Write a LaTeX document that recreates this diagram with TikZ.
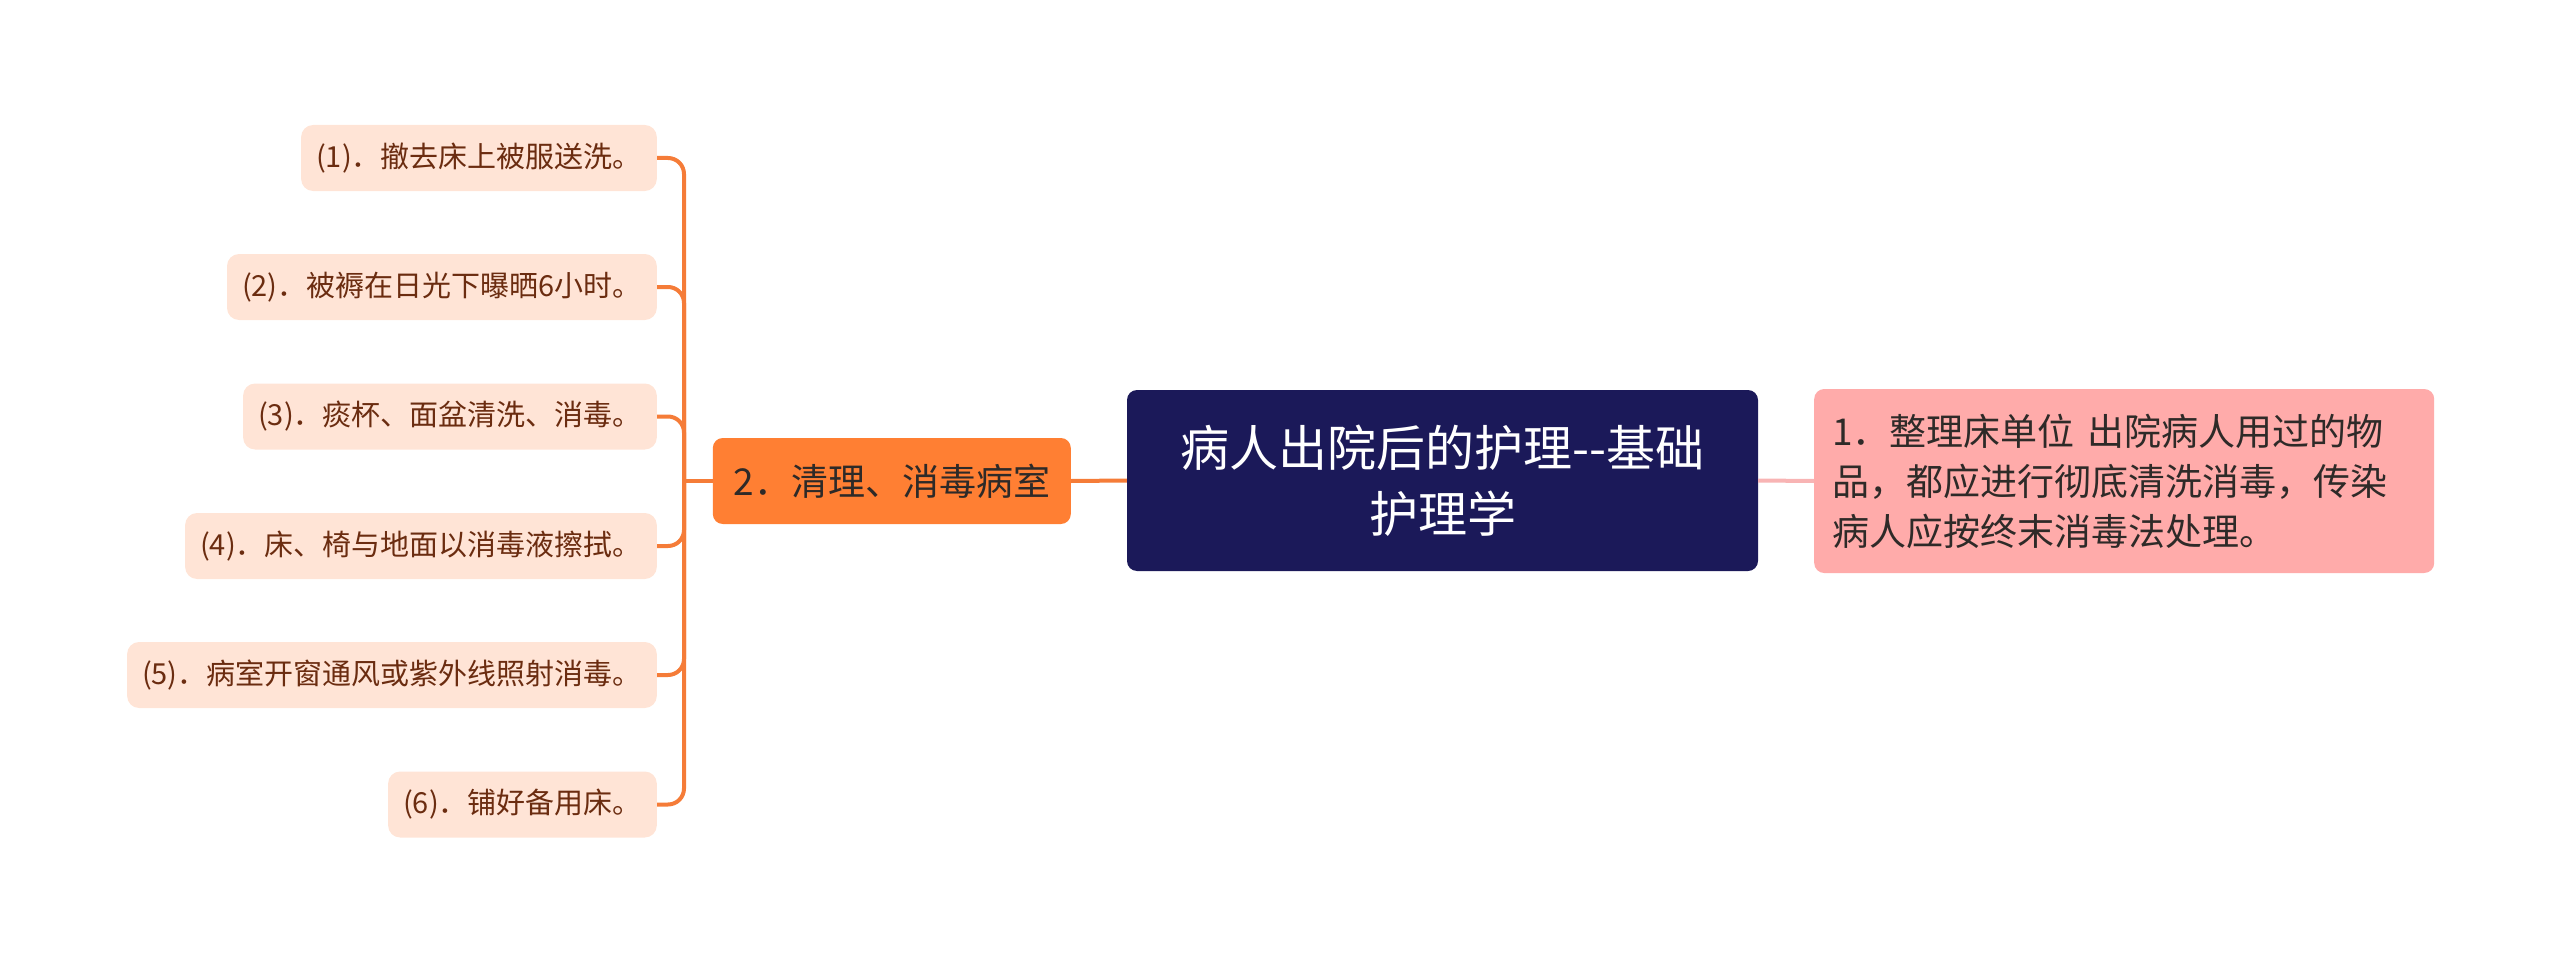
\documentclass[tikz,border=0pt]{standalone}
\usepackage{fontspec}
\setmainfont{Noto Sans CJK SC}
\definecolor{rootfill}{HTML}{1B1959}
\definecolor{branchfill}{HTML}{FF7F33}
\definecolor{leaffill}{HTML}{FFE4D6}
\definecolor{leaftext}{HTML}{6B2C10}
\definecolor{pinkfill}{HTML}{FFABAA}
\definecolor{pinkline}{HTML}{F8B4B4}
\definecolor{orangeline}{HTML}{F57C38}
\definecolor{darktext}{HTML}{2E2A28}
\begin{document}
\begin{tikzpicture}[x=1pt,y=-1pt,
  leafbox/.style={fill=leaffill, rounded corners=12pt, minimum height=66pt, inner xsep=15pt,
    text=leaftext, font=\fontsize{29}{35}\selectfont, anchor=east},
  rootbox/.style={fill=rootfill, rounded corners=10pt, minimum width=631pt, minimum height=181pt,
    text=white, align=center, font=\fontsize{49}{66}\selectfont},
  branchbox/.style={fill=branchfill, rounded corners=10pt, minimum width=358pt, minimum height=86pt,
    text=darktext, font=\fontsize{37}{44}\selectfont, anchor=east},
  rightbox/.style={fill=pinkfill, rounded corners=10pt, minimum height=184pt, text width=584pt,
    inner xsep=18pt, align=left, text=darktext, font=\fontsize{37}{50}\selectfont, anchor=west},
  oline/.style={draw=orangeline, line width=4pt},
  pline/.style={draw=pinkline, line width=4pt}
]
\useasboundingbox (0,0) rectangle (2560,963);
\node[rootbox] (root) at (1442.5,480.5) {病人出院后的护理{-}{-}基础\\护理学};
\node[branchbox] (b) at (1071,481) {2．清理、消毒病室};
\node[rightbox] (r) at (1814,481) {1．整理床单位 出院病人用过的物\\品，都应进行彻底清洗消毒，传染\\病人应按终末消毒法处理。};
\node[leafbox] (l1) at (657,158) {(1)．撤去床上被服送洗。};
\node[leafbox] (l2) at (657,287) {(2)．被褥在日光下曝晒6小时。};
\node[leafbox] (l3) at (657,416.5) {(3)．痰杯、面盆清洗、消毒。};
\node[leafbox] (l4) at (657,546) {(4)．床、椅与地面以消毒液擦拭。};
\node[leafbox] (l5) at (657,675) {(5)．病室开窗通风或紫外线照射消毒。};
\node[leafbox] (l6) at (657,804.5) {(6)．铺好备用床。};
\coordinate (j) at (684,481);
\draw[oline] (root.west) -- (b.east);
\draw[pline] (root.east) -- (r.west);
\draw[oline] (b.west) -- (j);
\foreach \n in {l1,l2,l3,l4,l5,l6}
  \draw[oline, rounded corners=16pt] (j) |- (\n.east);
\end{tikzpicture}
\end{document}
